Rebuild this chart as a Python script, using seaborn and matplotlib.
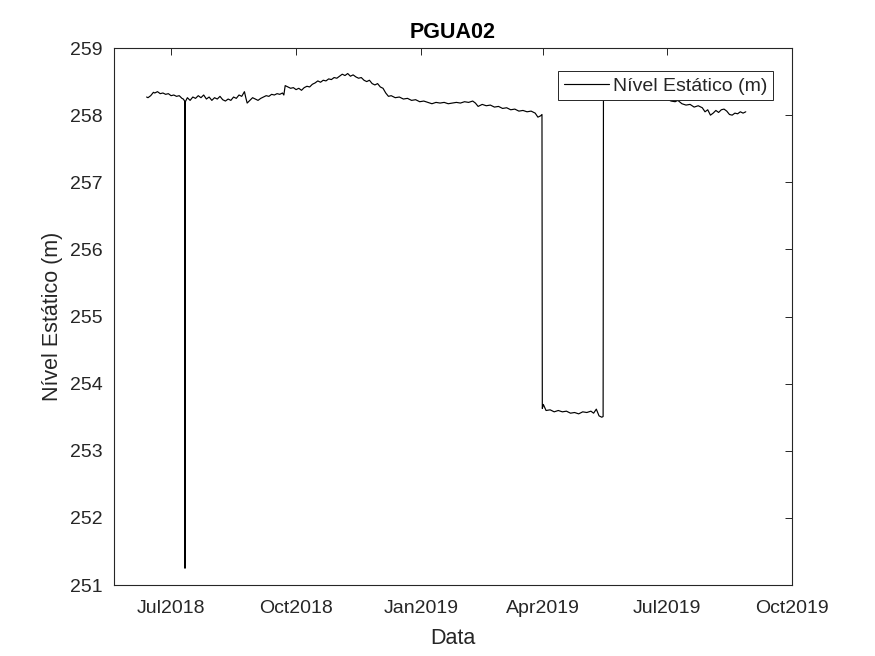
import matplotlib
matplotlib.use("Agg")
import matplotlib.pyplot as plt
import matplotlib.dates as mdates
import seaborn as sns
import pandas as pd

# ---- data ----
datas = [
    "2018-06-13", "2018-06-14", "2018-06-16", "2018-06-18", "2018-06-19", "2018-06-21",
    "2018-06-23", "2018-06-25", "2018-06-27", "2018-06-29", "2018-07-01", "2018-07-03",
    "2018-07-05", "2018-07-07", "2018-07-09", "2018-07-10",
    "2018-07-11 00:00", "2018-07-11 06:00", "2018-07-11 12:00",
    "2018-07-13", "2018-07-15",
    "2018-07-17", "2018-07-19", "2018-07-21", "2018-07-23", "2018-07-25", "2018-07-27",
    "2018-07-29", "2018-07-31", "2018-08-02", "2018-08-04", "2018-08-06", "2018-08-08",
    "2018-08-10", "2018-08-12", "2018-08-14", "2018-08-16", "2018-08-18", "2018-08-20",
    "2018-08-22", "2018-08-24", "2018-08-25", "2018-08-26", "2018-08-28", "2018-08-30",
    "2018-09-01", "2018-09-03", "2018-09-05", "2018-09-07", "2018-09-09", "2018-09-11",
    "2018-09-13", "2018-09-15", "2018-09-17", "2018-09-19", "2018-09-21", "2018-09-22",
    "2018-09-23", "2018-09-25", "2018-09-27", "2018-09-29", "2018-10-01", "2018-10-03",
    "2018-10-05", "2018-10-07", "2018-10-09", "2018-10-11", "2018-10-13", "2018-10-15",
    "2018-10-17", "2018-10-19", "2018-10-21", "2018-10-23", "2018-10-25", "2018-10-27",
    "2018-10-29", "2018-10-31", "2018-11-02", "2018-11-04", "2018-11-06", "2018-11-08",
    "2018-11-10", "2018-11-12", "2018-11-14", "2018-11-16", "2018-11-18", "2018-11-20",
    "2018-11-22", "2018-11-24", "2018-11-26", "2018-11-28", "2018-11-30", "2018-12-02",
    "2018-12-04", "2018-12-06", "2018-12-08", "2018-12-10", "2018-12-13", "2018-12-16",
    "2018-12-19", "2018-12-22", "2018-12-25", "2018-12-28", "2018-12-31",
    "2019-01-03", "2019-01-06", "2019-01-09", "2019-01-12", "2019-01-15", "2019-01-18",
    "2019-01-21", "2019-01-24", "2019-01-27", "2019-01-30", "2019-02-02", "2019-02-05",
    "2019-02-08", "2019-02-10", "2019-02-12", "2019-02-15", "2019-02-18", "2019-02-21",
    "2019-02-24", "2019-02-27", "2019-03-02", "2019-03-05", "2019-03-08", "2019-03-11",
    "2019-03-14", "2019-03-17", "2019-03-20", "2019-03-23", "2019-03-26", "2019-03-28",
    "2019-03-30", "2019-03-31 00:00", "2019-03-31 06:00",
    "2019-04-01", "2019-04-03", "2019-04-06", "2019-04-09", "2019-04-12", "2019-04-15",
    "2019-04-18", "2019-04-21", "2019-04-24", "2019-04-27", "2019-04-30", "2019-05-03",
    "2019-05-06", "2019-05-08", "2019-05-10", "2019-05-12", "2019-05-14",
    "2019-05-15 00:00", "2019-05-15 06:00",
    "2019-05-20", "2019-05-27", "2019-06-03", "2019-06-10", "2019-06-17", "2019-06-24",
    "2019-07-01", "2019-07-04", "2019-07-07", "2019-07-09", "2019-07-12", "2019-07-15",
    "2019-07-18", "2019-07-21", "2019-07-24", "2019-07-27", "2019-07-29", "2019-07-31",
    "2019-08-02", "2019-08-04", "2019-08-06", "2019-08-08", "2019-08-10", "2019-08-12",
    "2019-08-14", "2019-08-16", "2019-08-18", "2019-08-20", "2019-08-22", "2019-08-24",
    "2019-08-26", "2019-08-28",
]

nivel = [
    258.27, 258.26, 258.29, 258.34, 258.33, 258.35,
    258.32, 258.33, 258.31, 258.32, 258.29, 258.30,
    258.28, 258.29, 258.25, 258.24,
    258.21, 251.25, 258.20,
    258.26, 258.22,
    258.27, 258.25, 258.29, 258.26, 258.30, 258.24,
    258.27, 258.22, 258.26, 258.24, 258.28, 258.23,
    258.21, 258.24, 258.22, 258.27, 258.25, 258.30,
    258.28, 258.35, 258.26, 258.18, 258.22, 258.26,
    258.24, 258.22, 258.25, 258.27, 258.29, 258.28,
    258.31, 258.30, 258.32, 258.31, 258.33, 258.30,
    258.44, 258.42, 258.40, 258.41, 258.38, 258.40,
    258.37, 258.41, 258.43, 258.42, 258.46, 258.48,
    258.51, 258.49, 258.52, 258.51, 258.54, 258.53,
    258.56, 258.55, 258.58, 258.61, 258.59, 258.62,
    258.58, 258.60, 258.57, 258.55, 258.56, 258.52,
    258.50, 258.52, 258.47, 258.45, 258.47, 258.42,
    258.40, 258.33, 258.28, 258.29, 258.26, 258.27,
    258.24, 258.25, 258.22, 258.23, 258.20,
    258.21, 258.19, 258.17, 258.19, 258.18, 258.19,
    258.17, 258.18, 258.19, 258.18, 258.20, 258.19,
    258.21, 258.18, 258.13, 258.16, 258.14, 258.15,
    258.12, 258.13, 258.10, 258.11, 258.08, 258.09,
    258.06, 258.07, 258.05, 258.06, 258.03, 257.97,
    257.99, 258.01, 253.63,
    253.69, 253.60, 253.61, 253.58, 253.60, 253.58,
    253.59, 253.56, 253.57, 253.55, 253.58, 253.57,
    253.59, 253.56, 253.62, 253.52, 253.50,
    253.51, 258.30,
    258.31, 258.29, 258.28, 258.30, 258.27, 258.25,
    258.24, 258.21, 258.20, 258.22, 258.17, 258.15,
    258.16, 258.12, 258.14, 258.11, 258.05, 258.08,
    258.00, 258.03, 258.07, 258.04, 258.08, 258.09,
    258.06, 258.01, 258.00, 258.03, 258.02, 258.05,
    258.03, 258.05,
]

titulo = "PGUA02"
rotulo_serie = "Nível Estático (m)"
rotulo_x = "Data"
rotulo_y = "Nível Estático (m)"
yticks = [251, 252, 253, 254, 255, 256, 257, 258, 259]

df = pd.DataFrame({"Data": pd.to_datetime(datas, format="mixed"), "Nivel": nivel})

# ---- style ----
sns.set_style("white")
plt.rcParams["font.family"] = ["Liberation Sans", "DejaVu Sans"]
ink = "#262626"

fig = plt.figure(figsize=(8.75, 6.56), dpi=100)
ax = fig.add_axes([0.1303, 0.1082, 0.7748, 0.8186])

sns.lineplot(data=df, x="Data", y="Nivel", color="black", linewidth=0.85,
             label=rotulo_serie, errorbar=None, sort=False, ax=ax)

ax.set_xlim(pd.Timestamp("2018-05-20"), pd.Timestamp("2019-10-01"))
ax.set_ylim(251, 259)
ax.set_yticks(yticks)
ax.xaxis.set_major_locator(mdates.MonthLocator(bymonth=[1, 4, 7, 10]))
ax.xaxis.set_major_formatter(mdates.DateFormatter("%b%Y"))

ax.tick_params(direction="in", length=5, width=0.7, top=True, right=True,
               labelsize=14, colors=ink)
ax.tick_params(axis="x", pad=11)
ax.tick_params(axis="y", pad=8)
for sp in ax.spines.values():
    sp.set_color(ink)
    sp.set_linewidth(0.8)

ax.set_xlabel(rotulo_x, fontsize=15.5, color=ink, labelpad=8)
ax.set_ylabel(rotulo_y, fontsize=15.5, color=ink, labelpad=5)
ax.set_title(titulo, fontsize=15.5, fontweight="bold", color="black", pad=7)

leg = ax.legend(loc="upper right", bbox_to_anchor=(0.972, 0.957), fontsize=14,
                frameon=True, fancybox=False, framealpha=1, edgecolor=ink,
                handlelength=2.3, handletextpad=0.2, borderpad=0.3,
                borderaxespad=0)
leg.get_frame().set_linewidth(0.7)
for t in leg.get_texts():
    t.set_color(ink)

fig.savefig("out.png", dpi=100)
